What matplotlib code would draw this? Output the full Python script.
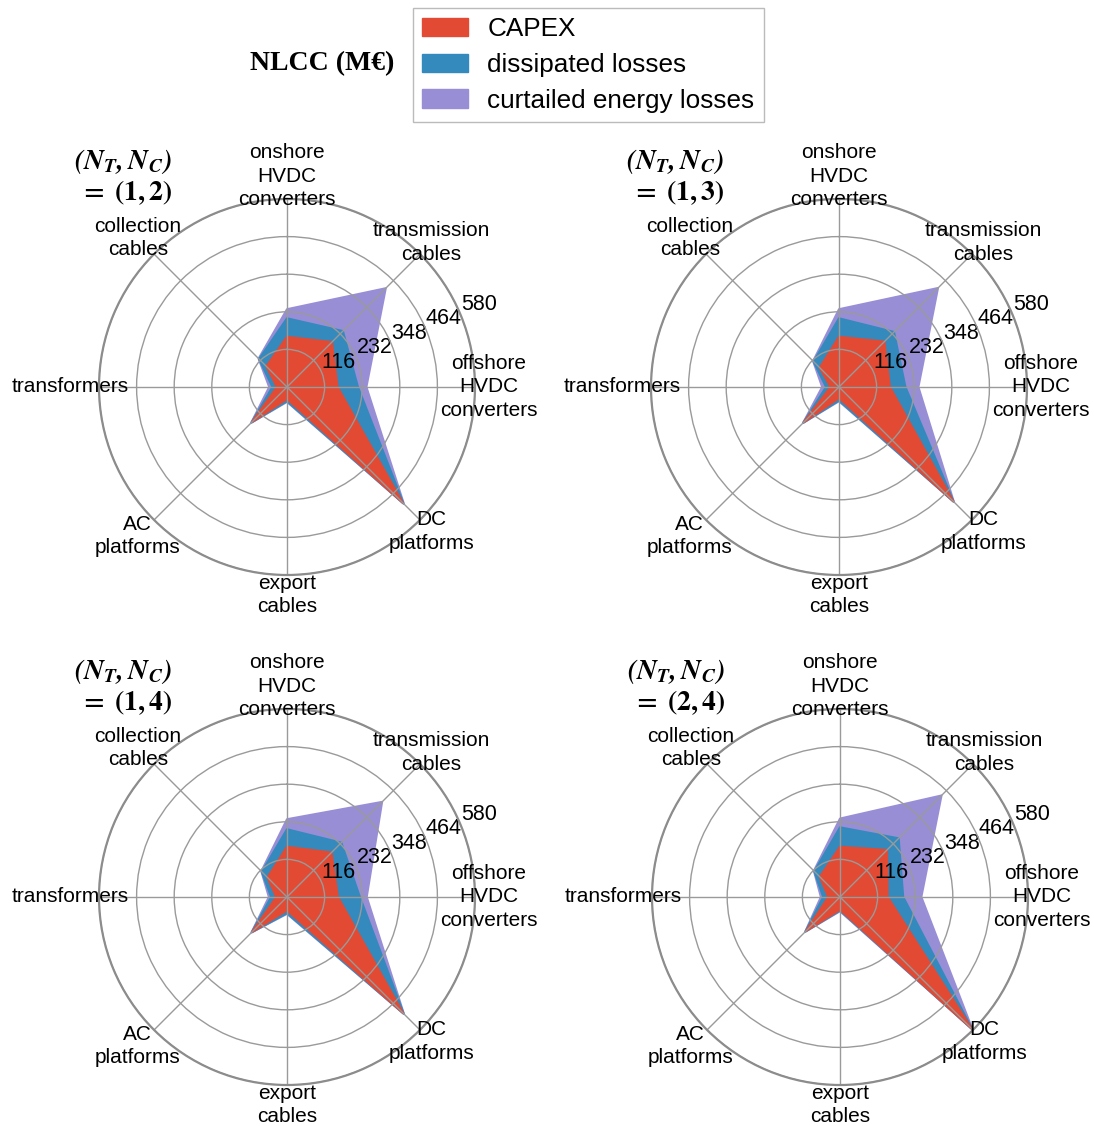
import numpy as np
import matplotlib
matplotlib.use("Agg")
import matplotlib.pyplot as plt
from matplotlib.patches import Patch

plt.rcParams['font.family'] = ['Liberation Sans', 'DejaVu Sans']
plt.rcParams['mathtext.fontset'] = 'stix'

categories = ["onshore\nHVDC\nconverters", "transmission\ncables",
              "offshore\nHVDC\nconverters", "DC\nplatforms", "export\ncables",
              "AC\nplatforms", "transformers", "collection\ncables"]
series_names = ["CAPEX", "dissipated losses", "curtailed energy losses"]
colors = ["#E24A33", "#348ABD", "#988ED5"]
r_ticks = [116, 232, 348, 464, 580]

titles = [r"$\mathbfit{(N_T,N_C)}$" + "\n" + r"$\mathbf{=\ (1,2)}$",
          r"$\mathbfit{(N_T,N_C)}$" + "\n" + r"$\mathbf{=\ (1,3)}$",
          r"$\mathbfit{(N_T,N_C)}$" + "\n" + r"$\mathbf{=\ (1,4)}$",
          r"$\mathbfit{(N_T,N_C)}$" + "\n" + r"$\mathbf{=\ (2,4)}$"]

# values per component (M€): onshore, transmission, offshore, DC plat, export, AC plat, transformers, collection
capex_12 = [155, 196, 156, 505, 37, 152, 31, 90]
diss_12 = [57, 48, 63, 3, 7, 3, 14, 32]
curt_12 = [28, 187, 26, 2, 2, 1, 10, 2]

capex_13 = [155, 198, 157, 499, 34, 154, 26, 84]
diss_13 = [57, 42, 48, 1, 8, 2, 14, 27]
curt_13 = [28, 192, 40, 1, 2, 1, 12, 2]

capex_14 = [155, 194, 157, 507, 41, 152, 33, 85]
diss_14 = [54, 43, 68, 2, 9, 2, 16, 25]
curt_14 = [31, 178, 21, 1, 2, 1, 7, 2]

capex_24 = [155, 205, 147, 576, 39, 148, 36, 88]
diss_24 = [60, 51, 48, 1, 3, 3, 16, 24]
curt_24 = [27, 187, 56, 1, 2, 1, 7, 2]

datasets = [(capex_12, diss_12, curt_12), (capex_13, diss_13, curt_13),
            (capex_14, diss_14, curt_14), (capex_24, diss_24, curt_24)]

W, H = 1094, 1126
fig = plt.figure(figsize=(W / 100, H / 100), dpi=100)

centers = [(287, 387), (839, 387), (287, 897), (840, 897)]
R = 188
label_r = [650, 630, 622, 630, 642, 651, 668, 651]

n = len(categories)
theta = np.arange(n) * 2 * np.pi / n
theta_closed = np.concatenate([theta, theta[:1]])

for idx, ((cx, cy), data, title) in enumerate(zip(centers, datasets, titles)):
    left = (cx - R) / W
    bottom = (H - cy - R) / H
    ax = fig.add_axes([left, bottom, 2 * R / W, 2 * R / H], projection='polar')
    ax.set_theta_offset(np.pi / 2)
    ax.set_theta_direction(-1)
    capex, diss, curt = [np.array(d, dtype=float) for d in data]
    cum = [capex + diss + curt, capex + diss, capex]
    for vals, col in zip(cum, colors[::-1]):
        v = np.concatenate([vals, vals[:1]])
        ax.fill(theta_closed, v, facecolor=col, edgecolor=col, linewidth=1.5,
                joinstyle='round', zorder=1)
    ax.set_ylim(0, 580)
    ax.set_yticks(r_ticks)
    ax.set_yticklabels([str(t) for t in r_ticks], fontsize=15.5)
    ax.set_rlabel_position(67.5)
    ax.set_xticks(theta)
    ax.set_xticklabels([])
    ax.grid(True, color='#9a9a9a', linewidth=1.0)
    ax.spines['polar'].set_color('#8c8c8c')
    ax.spines['polar'].set_linewidth(1.6)
    ax.set_facecolor('white')
    ax.tick_params(axis='y', pad=0)
    for t, lab, rr in zip(theta, categories, label_r):
        ax.text(t, rr, lab, ha='center', va='center', fontsize=15,
                linespacing=1.3, clip_on=False)
    ax.text(0.194, 1.135, title, transform=ax.transAxes, ha='right', va='top',
            fontsize=20, multialignment='right', linespacing=1.1)

handles = [Patch(facecolor=c, edgecolor=c, alpha=1.0, label=s) for c, s in zip(colors, series_names)]
fig.legend(handles=handles, loc='upper left', bbox_to_anchor=(413 / W, 1 - 8 / H),
           fontsize=18.8, frameon=True, fancybox=False, edgecolor='#aaaaaa',
           handlelength=1.75, labelspacing=0.45, borderpad=0.35, handletextpad=0.75,
           borderaxespad=0)
fig.text(322 / W, 1 - 64 / H, "NLCC (M€)", ha='center', va='center', fontsize=20,
         fontweight='bold', family=['Liberation Serif', 'DejaVu Serif'])

fig.savefig("out.png", dpi=100, facecolor='white')
